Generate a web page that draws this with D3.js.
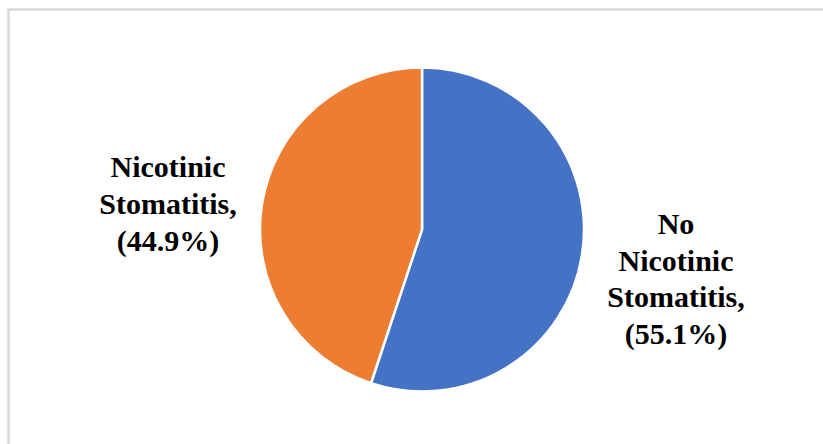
<!DOCTYPE html>
<html>
<head>
<meta charset="utf-8">
<script src="https://cdn.jsdelivr.net/npm/d3@7"></script>
<style>
  html, body { margin: 0; padding: 0; background: #fff; overflow: hidden; }
  svg { display: block; }
  .label { font-family: "Times New Roman", "Liberation Serif", "DejaVu Serif", serif; font-weight: bold; font-size: 30px; fill: #000; }
</style>
</head>
<body>
<div id="chart"></div>
<script>
// Data
const categories = ['No Nicotinic Stomatitis', 'Nicotinic Stomatitis'];
const values = [55.1, 44.9];
const labelLines = [
  ['No', 'Nicotinic', 'Stomatitis,', '(55.1%)'],
  ['Nicotinic', 'Stomatitis,', '(44.9%)']
];
const colors = ['#4472C4', '#ED7D31'];

const width = 823, height = 444;
const cx = 422, cy = 229.5, radius = 162;
const lineHeight = 36.6;
// label centres relative to pie centre (placed by hand in the original)
const labelOffsets = [{ dx: 254, dy: 49 }, { dx: -254, dy: -26 }];

const svg = d3.select('#chart')
  .append('svg')
  .attr('width', width)
  .attr('height', height);

// Frame (only top and left edges are visible in the crop)
svg.append('path')
  .attr('d', `M8.5,${height}V9.5H${width}`)
  .attr('fill', 'none')
  .attr('stroke', '#d9d9d9')
  .attr('stroke-width', 2.5);

const data = categories.map((c, i) => ({ name: c, value: values[i], lines: labelLines[i], color: colors[i] }));

const pie = d3.pie().value((d) => d.value).sort(null);
const arc = d3.arc().innerRadius(0).outerRadius(radius);

const g = svg.append('g').attr('transform', `translate(${cx},${cy})`);

g.selectAll('path.slice')
  .data(pie(data))
  .join('path')
  .attr('class', 'slice')
  .attr('d', arc)
  .attr('fill', (d) => d.data.color)
  .attr('stroke', '#fff')
  .attr('stroke-width', 2.5)
  .attr('stroke-linejoin', 'round');

// Data labels
const labels = g.selectAll('text.label')
  .data(data)
  .join('text')
  .attr('class', 'label')
  .attr('text-anchor', 'middle')
  .attr('transform', (d, i) => `translate(${labelOffsets[i].dx},${labelOffsets[i].dy})`);

labels.each(function (d) {
  const n = d.lines.length;
  d3.select(this).selectAll('tspan')
    .data(d.lines)
    .join('tspan')
    .attr('x', 0)
    .attr('y', (l, j) => (j - (n - 1) / 2) * lineHeight)
    .attr('dy', '0.35em')
    .text((l) => l);
});
</script>
</body>
</html>
